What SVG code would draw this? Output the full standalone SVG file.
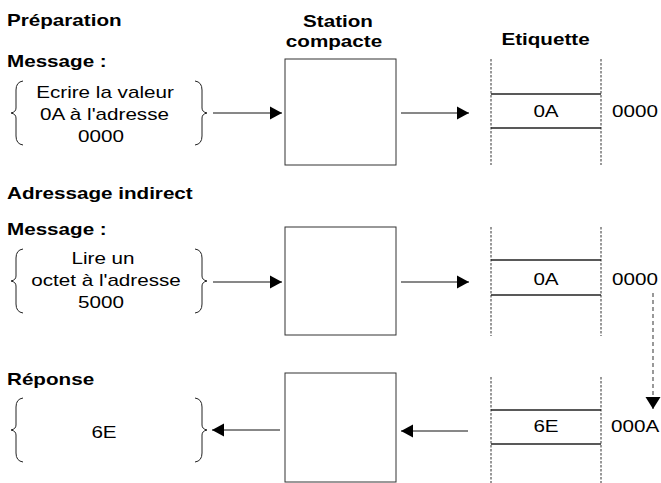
<svg xmlns="http://www.w3.org/2000/svg" width="661" height="483" viewBox="0 0 661 483">
<style>
text{font-family:"Liberation Sans",Arial,Helvetica,sans-serif;font-size:16px;fill:#000}
.b{font-weight:bold}
.m{text-anchor:middle}
.box{fill:#fff;stroke:#333;stroke-width:1}
.brace{fill:none;stroke:#222;stroke-width:1}
.dash{stroke:#333;stroke-width:1;stroke-dasharray:2.5 1.5}
.hl{stroke:#222;stroke-width:1.3}
.conn{stroke:#111;stroke-width:1;fill:none}
.dconn{stroke:#555;stroke-width:1.2;stroke-dasharray:4 3;fill:none}
</style>
<defs>
<marker id="ah" markerUnits="userSpaceOnUse" markerWidth="13" markerHeight="14" refX="12" refY="7" orient="auto">
<path d="M0,0.5 L12,7 L0,13.5 Z" fill="#000"/>
</marker>
<marker id="ahd" markerUnits="userSpaceOnUse" markerWidth="13" markerHeight="16" refX="12" refY="8" orient="auto">
<path d="M0,0.5 L12,8 L0,15.5 Z" fill="#000"/>
</marker>
<path id="lb" class="brace" d="M12,0 Q5,1 5,9 L5,27 Q5,31 0,32 Q5,33 5,37 L5,55 Q5,63 12,64"/>
<path id="rb" class="brace" d="M0,0 Q7,1 7,9 L7,27 Q7,31 12,32 Q7,33 7,37 L7,55 Q7,63 0,64"/>
</defs>
<rect width="661" height="483" fill="#fff"/>

<g id="headers">
<text class="b" transform="translate(7,26) scale(1.29,1)">Préparation</text>
<text class="b m" transform="translate(338,27) scale(1.29,1)">Station</text>
<text class="b m" transform="translate(334,47) scale(1.29,1)">compacte</text>
<text class="b m" transform="translate(545.5,45) scale(1.29,1)">Etiquette</text>
<text class="b" transform="translate(7,67) scale(1.29,1)">Message :</text>
<text class="b" transform="translate(7,199) scale(1.29,1)">Adressage indirect</text>
<text class="b" transform="translate(7,235) scale(1.29,1)">Message :</text>
<text class="b" transform="translate(7,385) scale(1.29,1)">Réponse</text>
</g>

<g id="msg1">
<use href="#lb" transform="translate(11,81)"/>
<use href="#rb" transform="translate(195,81)"/>
<text class="m" transform="translate(105,98) scale(1.29,1)">Ecrire la valeur</text>
<text class="m" transform="translate(104.5,120) scale(1.29,1)">0A à l'adresse</text>
<text class="m" transform="translate(101,142) scale(1.29,1)">0000</text>
</g>

<g id="station1"><rect class="box" x="285" y="59" width="111" height="106"/></g>

<g id="etiquette1">
<line class="dash" x1="491" y1="59" x2="491" y2="165"/>
<line class="dash" x1="601" y1="59" x2="601" y2="165"/>
<line class="hl" x1="491" y1="94" x2="601" y2="94"/>
<line class="hl" x1="491" y1="128" x2="601" y2="128"/>
<text class="m" transform="translate(546,117) scale(1.29,1)">0A</text>
<text transform="translate(612,117) scale(1.29,1)">0000</text>
</g>

<g id="msg2">
<use href="#lb" transform="translate(11,249)"/>
<use href="#rb" transform="translate(195,249)"/>
<text class="m" transform="translate(103,264) scale(1.29,1)">Lire un</text>
<text class="m" transform="translate(106,286) scale(1.29,1)">octet à l'adresse</text>
<text class="m" transform="translate(101,308) scale(1.29,1)">5000</text>
</g>

<g id="station2"><rect class="box" x="285" y="227" width="111" height="108"/></g>

<g id="etiquette2">
<line class="dash" x1="491" y1="227" x2="491" y2="336"/>
<line class="dash" x1="601" y1="227" x2="601" y2="336"/>
<line class="hl" x1="491" y1="260" x2="601" y2="260"/>
<line class="hl" x1="491" y1="295" x2="601" y2="295"/>
<text class="m" transform="translate(546,285) scale(1.29,1)">0A</text>
<text transform="translate(612,285) scale(1.29,1)">0000</text>
</g>

<g id="reponse">
<use href="#lb" transform="translate(11,398)"/>
<use href="#rb" transform="translate(195,398)"/>
<text class="m" transform="translate(104,438) scale(1.29,1)">6E</text>
</g>

<g id="station3"><rect class="box" x="285" y="373" width="111" height="109"/></g>

<g id="etiquette3">
<line class="dash" x1="491" y1="377" x2="491" y2="483"/>
<line class="dash" x1="601" y1="377" x2="601" y2="483"/>
<line class="hl" x1="491" y1="410" x2="601" y2="410"/>
<line class="hl" x1="491" y1="444" x2="601" y2="444"/>
<text class="m" transform="translate(546,432) scale(1.29,1)">6E</text>
<text transform="translate(611,432) scale(1.29,1)">000A</text>
</g>

<g id="connectors">
<line class="conn" x1="213" y1="113" x2="282" y2="113" marker-end="url(#ah)"/>
<line class="conn" x1="401" y1="113" x2="469" y2="113" marker-end="url(#ah)"/>
<line class="conn" x1="213" y1="282" x2="282" y2="282" marker-end="url(#ah)"/>
<line class="conn" x1="401" y1="282" x2="469" y2="282" marker-end="url(#ah)"/>
<line class="conn" x1="280" y1="430" x2="212" y2="430" marker-end="url(#ah)"/>
<line class="conn" x1="468" y1="431" x2="401" y2="431" marker-end="url(#ah)"/>
<line class="dconn" x1="653" y1="293" x2="653" y2="409" marker-end="url(#ahd)"/>
</g>
</svg>
